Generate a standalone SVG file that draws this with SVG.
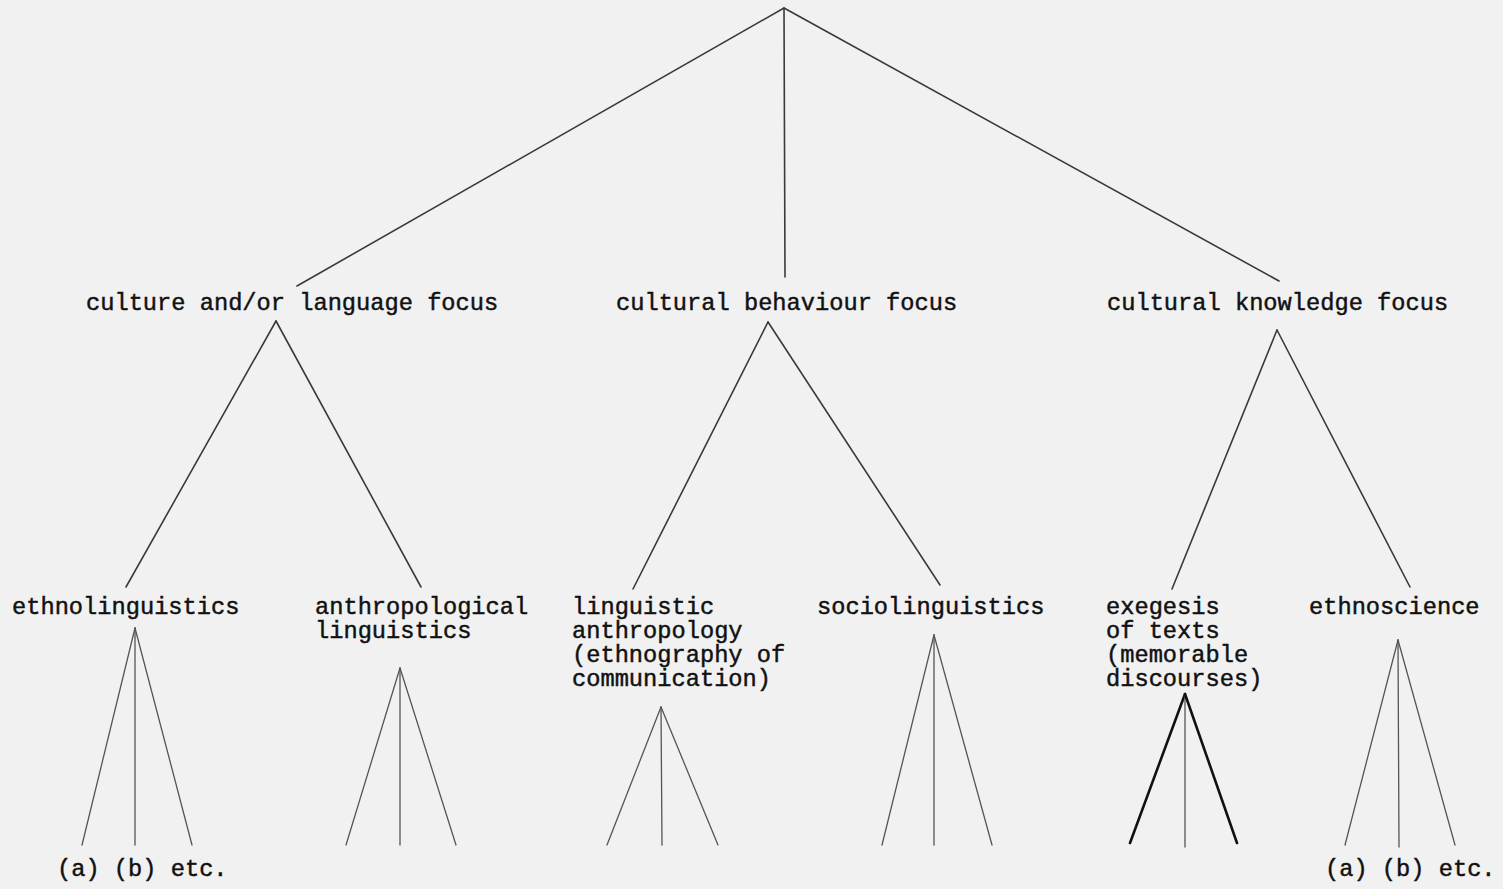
<svg xmlns="http://www.w3.org/2000/svg" width="1503" height="889" viewBox="0 0 1503 889">
<style>
.bg{fill:#f1f1f1}
.t{font-family:"Liberation Mono","Courier New",monospace;font-size:23.7px;fill:#111;stroke:#111;stroke-width:0.45}
.ln{stroke:#3a3a3a;stroke-width:1.6;fill:none;stroke-linecap:round}
.thick{stroke:#111;stroke-width:2.6}
.thin{stroke:#555;stroke-width:1.3}
</style>
<rect class="bg" x="0" y="0" width="1503" height="889"/>
<g id="connectors">
  <line class="ln" x1="784" y1="8" x2="297" y2="286"/>
  <line class="ln" x1="784" y1="8" x2="785" y2="277"/>
  <line class="ln" x1="784" y1="8" x2="1279" y2="281"/>
  <line class="ln" x1="276" y1="321" x2="126" y2="587"/>
  <line class="ln" x1="276" y1="321" x2="421" y2="587"/>
  <line class="ln" x1="768" y1="322" x2="633" y2="589"/>
  <line class="ln" x1="768" y1="322" x2="940" y2="585"/>
  <line class="ln" x1="1277" y1="330" x2="1172" y2="589"/>
  <line class="ln" x1="1277" y1="330" x2="1410" y2="587"/>
  <g>
    <line class="ln thin" x1="135" y1="628" x2="82" y2="845"/>
    <line class="ln thin" x1="135" y1="628" x2="135" y2="845"/>
    <line class="ln thin" x1="135" y1="628" x2="192" y2="845"/>
    <line class="ln thin" x1="400" y1="668" x2="346" y2="845"/>
    <line class="ln thin" x1="400" y1="668" x2="400" y2="845"/>
    <line class="ln thin" x1="400" y1="668" x2="456" y2="845"/>
    <line class="ln thin" x1="661" y1="707" x2="607" y2="845"/>
    <line class="ln thin" x1="661" y1="707" x2="662" y2="845"/>
    <line class="ln thin" x1="661" y1="707" x2="718" y2="845"/>
    <line class="ln thin" x1="934" y1="635" x2="882" y2="845"/>
    <line class="ln thin" x1="934" y1="635" x2="934" y2="845"/>
    <line class="ln thin" x1="934" y1="635" x2="992" y2="845"/>
    <line class="ln thick" x1="1185" y1="694" x2="1130" y2="843"/>
    <line class="ln thin" x1="1185" y1="694" x2="1185" y2="847"/>
    <line class="ln thick" x1="1185" y1="694" x2="1237" y2="843"/>
    <line class="ln thin" x1="1398" y1="640" x2="1345" y2="845"/>
    <line class="ln thin" x1="1398" y1="640" x2="1399" y2="847"/>
    <line class="ln thin" x1="1398" y1="640" x2="1455" y2="845"/>
  </g>
</g>
<g id="n-culture-language"><text class="t" x="86" y="310">culture and/or language focus</text></g>
<g id="n-behaviour"><text class="t" x="616" y="310">cultural behaviour focus</text></g>
<g id="n-knowledge"><text class="t" x="1107" y="310">cultural knowledge focus</text></g>
<g id="n-ethnolinguistics"><text class="t" x="12" y="614">ethnolinguistics</text></g>
<g id="n-anthropological-linguistics"><text class="t" x="315" y="614">anthropological</text><text class="t" x="315" y="638">linguistics</text></g>
<g id="n-linguistic-anthropology"><text class="t" x="572" y="614">linguistic</text><text class="t" x="572" y="638">anthropology</text><text class="t" x="572" y="662">(ethnography of</text><text class="t" x="572" y="686">communication)</text></g>
<g id="n-sociolinguistics"><text class="t" x="817" y="614">sociolinguistics</text></g>
<g id="n-exegesis"><text class="t" x="1106" y="614">exegesis</text><text class="t" x="1106" y="638">of texts</text><text class="t" x="1106" y="662">(memorable</text><text class="t" x="1106" y="686">discourses)</text></g>
<g id="n-ethnoscience"><text class="t" x="1309" y="614">ethnoscience</text></g>
<g id="n-etc-left"><text class="t" x="57" y="876">(a) (b) etc.</text></g>
<g id="n-etc-right"><text class="t" x="1325" y="876">(a) (b) etc.</text></g>
</svg>
